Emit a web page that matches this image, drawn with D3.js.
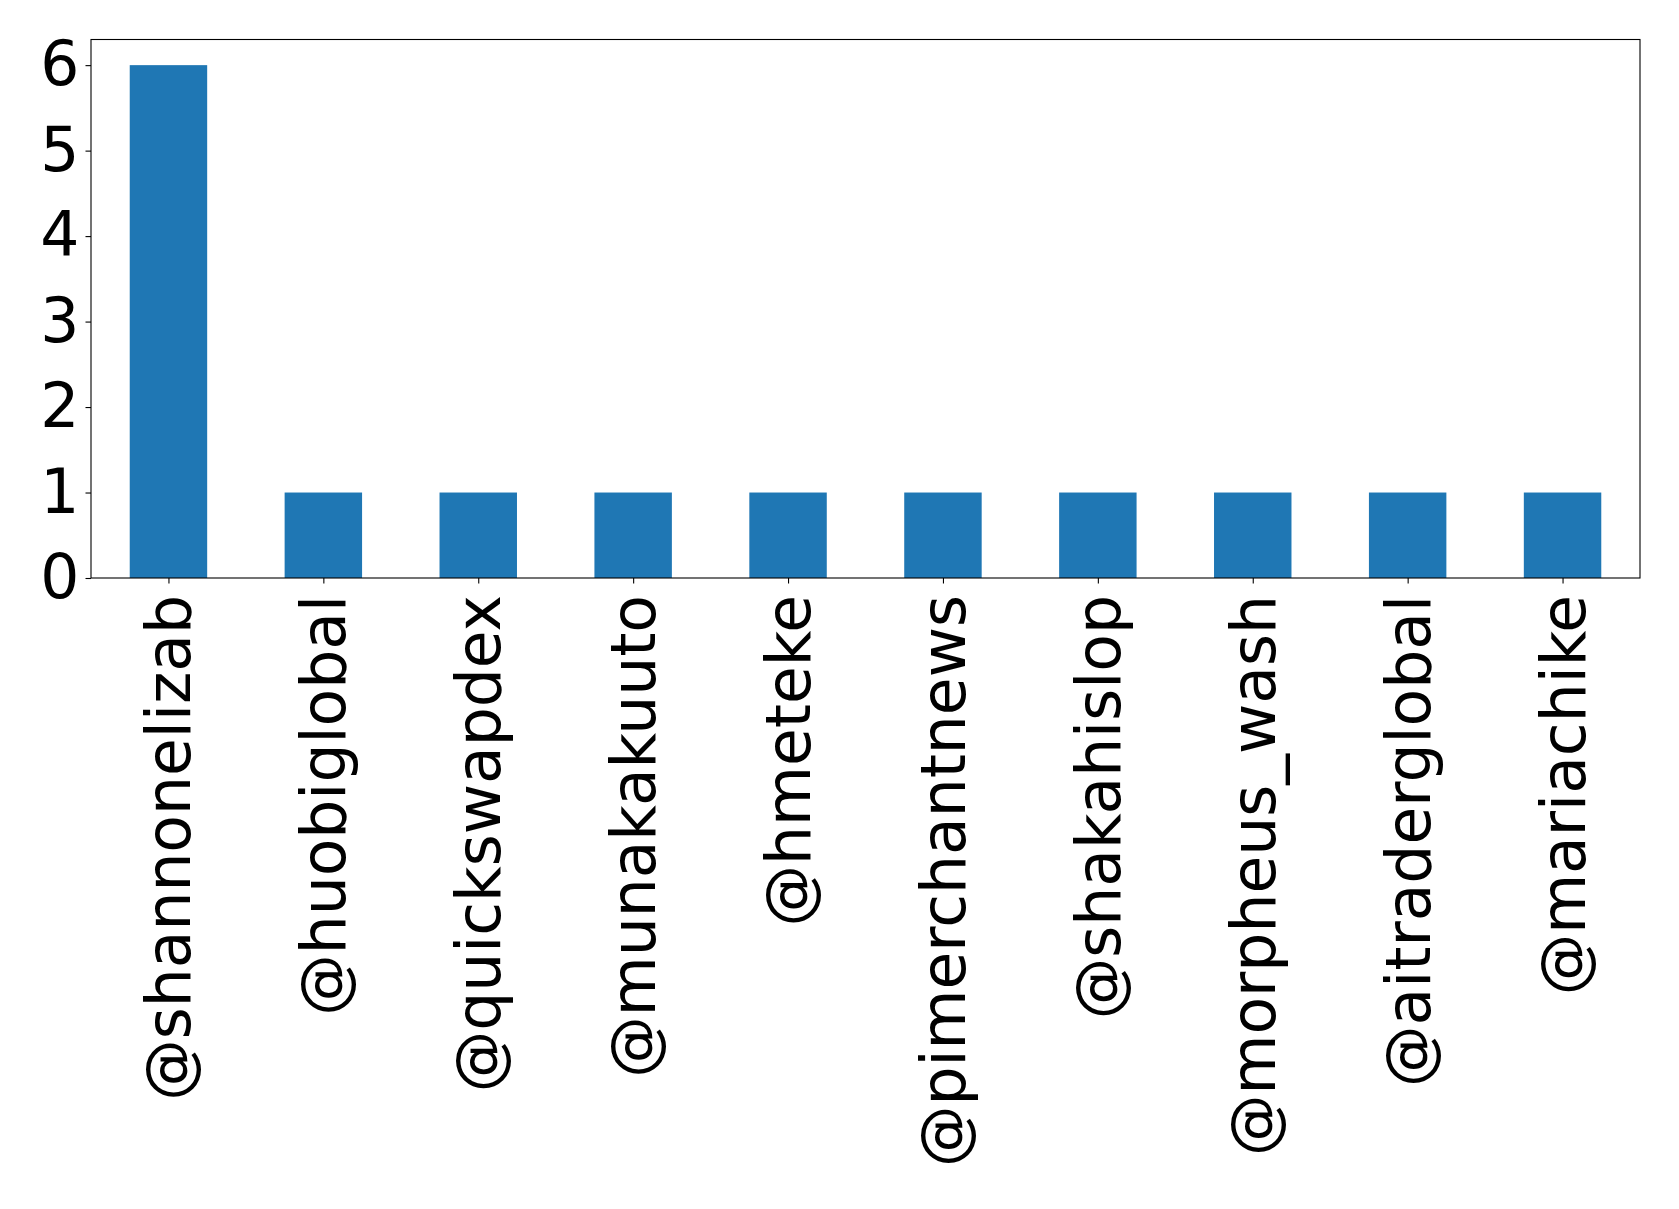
<!DOCTYPE html>
<html>
<head>
<meta charset="utf-8">
<script src="https://cdn.jsdelivr.net/npm/d3@7"></script>
<style>
  body { margin: 0; background: #fff; }
  svg text { font-family: "DejaVu Sans", sans-serif; }
</style>
</head>
<body>
<div id="chart"></div>
<script>
// data
var users = ["@shannonelizab", "@huobiglobal", "@quickswapdex", "@munakakuuto", "@hmeteke",
             "@pimerchantnews", "@shakahislop", "@morpheus_wash", "@aitraderglobal", "@mariachike"];
var counts = [6, 1, 1, 1, 1, 1, 1, 1, 1, 1];
var yTicks = [0, 1, 2, 3, 4, 5, 6];

// set the dimensions and margins of the graph
var margin = {top: 39.5, right: 39, bottom: 631, left: 91},
    width = 1679 - margin.left - margin.right,
    height = 1209 - margin.top - margin.bottom;

var svg = d3.select("#chart")
  .append("svg")
  .attr("width", 1679)
  .attr("height", 1209)
  .append("g")
  .attr("transform", "translate(" + margin.left + "," + margin.top + ")");

// x scale: categories at integer positions, xlim -0.5..n-0.5
var x = d3.scaleLinear()
  .domain([-0.5, users.length - 0.5])
  .range([0, width]);

var y = d3.scaleLinear()
  .domain([0, d3.max(counts) * 1.05])
  .range([height, 0]);

var fontPx = 61.5;

// bars
svg.selectAll(".bar")
  .data(counts)
  .enter()
  .append("rect")
    .attr("class", "bar")
    .attr("x", function(d, i) { return x(i - 0.25); })
    .attr("width", x(0.25) - x(-0.25))
    .attr("y", function(d) { return y(d); })
    .attr("height", function(d) { return height - y(d); })
    .attr("fill", "#1f77b4");

// Y axis
var yAxis = svg.append("g")
  .call(d3.axisLeft(y).tickValues(yTicks).tickFormat(d3.format("d")).tickSizeOuter(0).tickSize(5.5).tickPadding(6));
yAxis.select(".domain").remove();
yAxis.selectAll("line").attr("stroke", "#000").attr("stroke-width", 1.1);
yAxis.selectAll("text")
  .attr("font-size", fontPx + "px")
  .attr("font-family", "DejaVu Sans")
  .attr("fill", "#000");

// X axis
var xAxis = svg.append("g")
  .attr("transform", "translate(0," + height + ")")
  .call(d3.axisBottom(x).tickValues(d3.range(users.length))
        .tickFormat(function(i) { return users[i]; })
        .tickSizeOuter(0).tickSize(5.5).tickPadding(4.9));
xAxis.select(".domain").remove();
xAxis.selectAll("line").attr("stroke", "#000").attr("stroke-width", 1.1);
xAxis.selectAll("text")
  .attr("font-size", fontPx + "px")
  .attr("font-family", "DejaVu Sans")
  .attr("fill", "#000")
  .attr("text-anchor", "end")
  .attr("transform", "rotate(-90)")
  .attr("x", -17)
  .attr("y", 0)
  .attr("dy", "0.35em");

// frame
svg.append("rect")
  .attr("width", width)
  .attr("height", height)
  .attr("fill", "none")
  .attr("stroke", "#000")
  .attr("stroke-width", 1.1);
</script>
</body>
</html>
